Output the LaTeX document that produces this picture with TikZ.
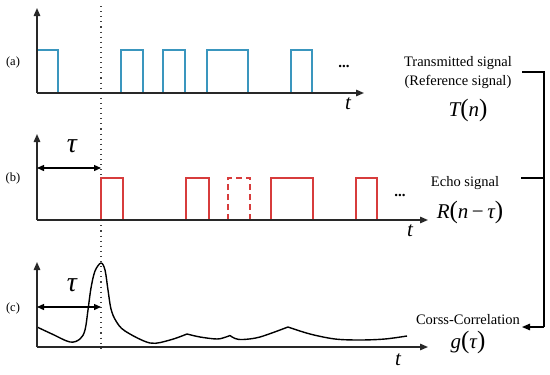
\documentclass[tikz,border=0pt]{standalone}
\usepackage{fontspec}
\setmainfont{Liberation Serif}
\newfontfamily\mathitfont{Liberation Serif Italic}
\usetikzlibrary{arrows.meta}
\definecolor{pulseblue}{RGB}{58,150,190}
\definecolor{pulsered}{RGB}{215,60,60}
\definecolor{axisgray}{RGB}{40,40,40}
\newcommand\bigparen[1]{{\fontsize{25}{25}\selectfont\rmfamily\upshape #1}}
\begin{document}
\begin{tikzpicture}[x=1pt,y=-1pt,
  axisline/.style={line width=1.4pt, draw=axisgray, -{Triangle[length=8pt,width=6.5pt]}},
  bpulse/.style={line width=1.4pt, draw=pulseblue},
  rpulse/.style={line width=1.4pt, draw=pulsered},
  delayarrow/.style={line width=1.3pt, {Triangle[length=7pt,width=6pt]}-{Triangle[length=7pt,width=6pt]}},
  bracketline/.style={line width=1.3pt, draw=black},
  lbl/.style={font=\fontsize{14.5}{16}\selectfont, inner sep=0pt},
  panel/.style={font=\fontsize{12.5}{14}\selectfont, inner sep=0pt},
  mathlbl/.style={font=\mathitfont\fontsize{21}{24}\selectfont, inner sep=0pt},
  taulbl/.style={font=\mathitfont\fontsize{28}{28}\selectfont, inner sep=0pt},
  dotslbl/.style={font=\fontsize{15}{16}\selectfont\bfseries, inner sep=0pt}
]
\useasboundingbox (0,0) rectangle (550,375);

% ---------- reference dotted line ----------
\coordinate (dtop) at (101,6);
\coordinate (dbot) at (101,348);
\draw[line width=1.1pt, black!75, dash pattern=on 1.1pt off 4pt] (dtop) -- (dbot);

% ---------- panel (a) ----------
\coordinate (oa) at (37,93);
\coordinate (ya) at (37,8);
\coordinate (xa) at (364,93);
\draw[bpulse] (37,50) -- (58,50) -- (58,93);
\draw[bpulse] (121,93) -- (121,50) -- (143,50) -- (143,93);
\draw[bpulse] (163,93) -- (163,50) -- (185,50) -- (185,93);
\draw[bpulse] (207,93) -- (207,50) -- (248,50) -- (248,93);
\draw[bpulse] (291,93) -- (291,50) -- (312,50) -- (312,93);
\draw[axisline] (oa) -- (ya);
\draw[axisline] (oa) -- (xa);
\node[panel] (pa) at (13,62) {(a)};
\node[dotslbl] (dotsa) at (344,66) {...};
\node[mathlbl] (ta) at (348,104) {t};

% ---------- panel (b) ----------
\coordinate (ob) at (37,220);
\coordinate (yb) at (37,134);
\coordinate (xb) at (428,220);
\draw[rpulse] (101,220) -- (101,178) -- (123,178) -- (123,220);
\draw[rpulse] (186,220) -- (186,178) -- (209,178) -- (209,220);
\draw[rpulse, dash pattern=on 6pt off 4pt] (228,220) -- (228,178) -- (250,178) -- (250,220);
\draw[rpulse] (271,220) -- (271,178) -- (313,178) -- (313,220);
\draw[rpulse] (356,220) -- (356,178) -- (377,178) -- (377,220);
\draw[axisline] (ob) -- (yb);
\draw[axisline] (ob) -- (xb);
\coordinate (tb1) at (37,168);
\coordinate (tb2) at (101,168);
\draw[delayarrow] (tb1) -- (tb2);
\node[taulbl] (taub) at (72,146) {τ};
\node[panel] (pb) at (13,178) {(b)};
\node[dotslbl] (dotsb) at (400,195) {...};
\node[mathlbl] (tb) at (410,231) {t};

% ---------- panel (c) ----------
\coordinate (oc) at (37,347);
\coordinate (yc) at (37,262);
\coordinate (xc) at (428,347);
\draw[line width=1.4pt, line join=round]
  plot[smooth, tension=0.55] coordinates {(37,327) (52,334) (70,342) (80,339) (85,330) (88,310) (91,288) (95,271) (101,263) (105,270) (108,290) (111,309) (116,321) (125,331) (150,343) (170,340) (187,334)}
  plot[smooth, tension=0.55] coordinates {(187,334) (200,337) (217,339) (226,337) (230,335.5)}
  plot[smooth, tension=0.55] coordinates {(230,335.5) (235,338.5) (243,339.5) (260,337) (288,327)}
  plot[smooth, tension=0.55] coordinates {(288,327) (310,334) (335,339) (360,340) (385,339) (407,336)};
\draw[axisline] (oc) -- (yc);
\draw[axisline] (oc) -- (xc);
\coordinate (tc1) at (37,307);
\coordinate (tc2) at (101,307);
\draw[delayarrow] (tc1) -- (tc2);
\node[taulbl] (tauc) at (72,285) {τ};
\node[panel] (pc) at (13,308) {(c)};
\node[mathlbl] (tcl) at (398,360) {t};

% ---------- right-hand labels ----------
\node[lbl] (tx1) at (458,63) {Transmitted signal};
\node[lbl] (tx2) at (458,82) {(Reference signal)};
\node[mathlbl] (tn) at (468,110) {T\bigparen{(}n\bigparen{)}};
\node[lbl] (echo) at (465,183) {Echo signal};
\node[mathlbl] (rn) at (470,212) {R\bigparen{(}n\,{\rmfamily\upshape −}\,τ\bigparen{)}};
\node[lbl] (cc) at (468,320) {Corss-Correlation};
\node[mathlbl] (gt) at (468,342) {g\bigparen{(}τ\bigparen{)}};

% ---------- bracket ----------
\coordinate (br1) at (522,72);
\coordinate (brc1) at (544,72);
\coordinate (br2) at (521,178);
\coordinate (brc2) at (544,178);
\coordinate (brc3) at (544,327);
\coordinate (br3) at (522,327);
\draw[bracketline] (br1) -- (brc1) -- (brc3);
\draw[bracketline] (br2) -- (brc2);
\draw[bracketline, -{Triangle[length=8pt,width=6.5pt]}] (brc3) -- (br3);
\end{tikzpicture}
\end{document}
